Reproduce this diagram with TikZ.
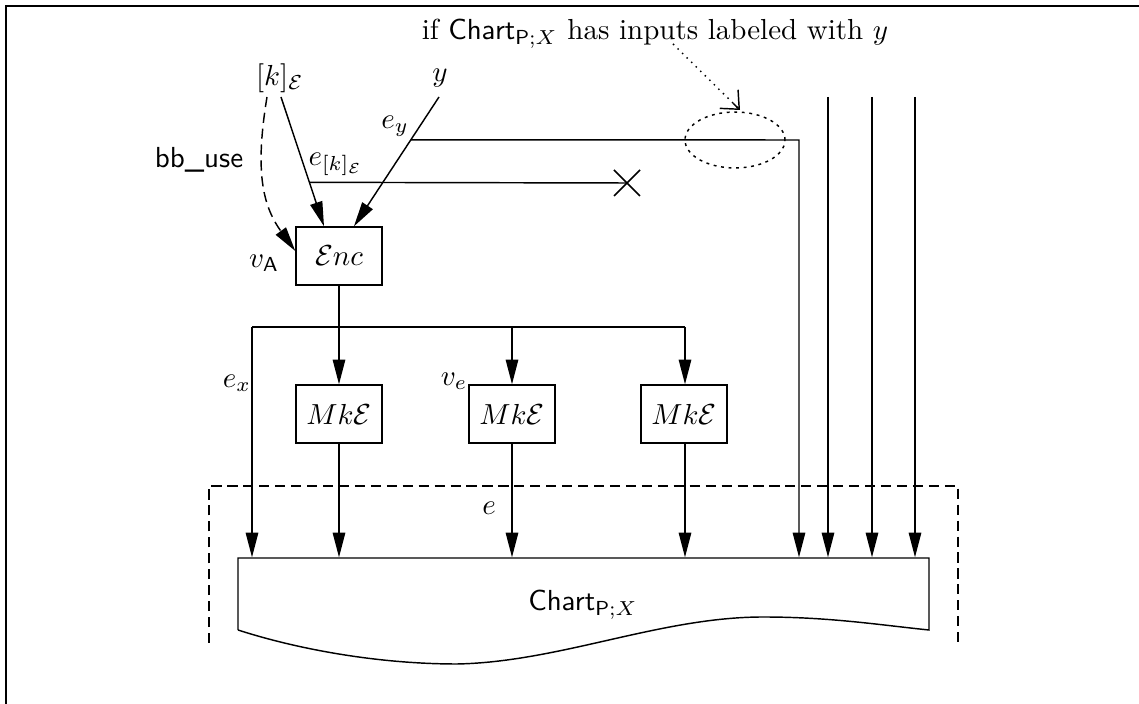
\documentclass[tikz,border=0pt]{standalone}
\usepackage{amsmath}
\usetikzlibrary{arrows.meta,shapes.geometric,calc}
\begin{document}
\begin{tikzpicture}[x=0.345pt,y=-0.345pt,
  line width=0.5pt,
  arr/.style={-{Triangle[length=8.5pt,width=4.3pt]}},
  boxnode/.style={draw,minimum width=29.67pt,minimum height=20pt,inner sep=0pt},
  lbl/.style={inner sep=0pt},
  dashpat/.style={dash pattern=on 3.5pt off 2pt},
  ]
\useasboundingbox (0,0) rectangle (1139,704);
% frame
\draw[line width=1pt] (6,704) -- (6,6) -- (1139,6);

% top text
\node[lbl,anchor=base] (top) at (655,40) {if $\mathsf{Chart}_{\mathsf{P};X}$ has inputs labeled with $y$};

% inputs
\node[lbl] (kE) at (280,78) {$[k]_{\mathcal{E}}$};
\node[lbl] (yy) at (440,78) {$y$};
\coordinate (kEs) at (281,97);
\coordinate (kEd) at (267,97);
\coordinate (ys) at (439,97);

% Enc box
\node[boxnode] (enc) at (339,256) {$\mathcal{E}nc$};
\node[lbl] (vA) at (264,263) {$v_{\mathsf{A}}$};

\draw[arr] (kEs) -- (enc.north west -| 324,0) coordinate (kEt);
\draw[arr] (ys) -- (enc.north west -| 354,0) coordinate (yt);
\draw[arr,dashpat] (kEd) .. controls (255,170) and (262,205) .. (enc.west |- 0,251);
\node[lbl] (bb) at (199,160) {\textsf{bb\_use}};

% e_y line
\coordinate (ey0) at ($(ys)!0.331!(yt)$);
\node[lbl] (eyl) at (395,126) {$e_y$};
\coordinate (ekk0) at ($(kEs)!0.66!(kEt)$);
\node[lbl] (ekl) at (336,164) {$e_{[k]_{\mathcal{E}}}$};
\coordinate (xx) at (627,183);
\draw (ekk0) -- (xx);
\node[lbl] (cross) at (xx) {};
\draw (627-13,183-13) -- (627+13,183+13) (627-13,183+13) -- (627+13,183-13);

% Chart shape
\coordinate (cnw) at (238,558);
\coordinate (cne) at (929,558);
\node[minimum width=238.4pt,minimum height=24.8pt,inner sep=0pt] (chart) at (583.5,594) {};
\draw (238,630) -- (cnw) -- (cne) -- (929,630)
  .. controls (880,625) and (830,617) .. (763,617)
  .. controls (660,617) and (560,662) .. (457,664)
  .. controls (380,664) and (300,650) .. (238,630);
\node[lbl] (chartl) at (583,605) {$\mathsf{Chart}_{\mathsf{P};X}$};

% dashed rectangle
\draw[dashpat] (209,643) -- (209,486) -- (958,486) -- (958,643);

% e_y route
\coordinate (eyc) at (799,140);
\draw[arr] (ey0) -- (eyc) -- (eyc |- chart.north);

% three extra inputs
\foreach \xx/\nm in {828/r1,872/r2,915/r3}{
  \coordinate (\nm) at (\xx,97);
  \draw[arr] (\nm) -- (\nm |- chart.north);
}

% ellipse and note
\node[draw,ellipse,dash pattern=on 1pt off 1.6pt,minimum width=34.5pt,minimum height=19.3pt,inner sep=0pt] (ell) at (735,140) {};
\coordinate (note) at (673,44);
\coordinate (notet) at (740,110);
\draw[dash pattern=on 0.5pt off 1.7pt] (note) -- (notet);
\draw[-{Straight Barb[length=5pt,width=9pt,line width=0.5pt]}] ($(note)!0.9!(notet)$) -- (notet);

% distribution
\coordinate (j0) at (339,327);
\coordinate (jl) at (252,327);
\coordinate (jr) at (685,327);
\draw (enc.south) -- (j0);
\draw (jl) -- (jr);

\node[boxnode] (mk1) at (339,414) {$Mk\mathcal{E}$};
\node[boxnode] (mk2) at (512,414) {$Mk\mathcal{E}$};
\node[boxnode] (mk3) at (684,414) {$Mk\mathcal{E}$};

\draw[arr] (j0) -- (mk1.north);
\draw[arr] (mk2.north |- jl) -- (mk2.north);
\draw[arr] (jr) -- (mk3.north -| jr);
\draw[arr] (jl) -- (jl |- chart.north);
\draw[arr] (mk1.south) -- (mk1.south |- chart.north);
\draw[arr] (mk2.south) -- (mk2.south |- chart.north);
\draw[arr] (mk3.south -| jr) -- (jr |- chart.north);

\node[lbl] (exl) at (237,383) {$e_x$};
\node[lbl] (vel) at (454,381) {$v_e$};
\node[lbl] (el) at (489,508) {$e$};
\end{tikzpicture}
\end{document}
